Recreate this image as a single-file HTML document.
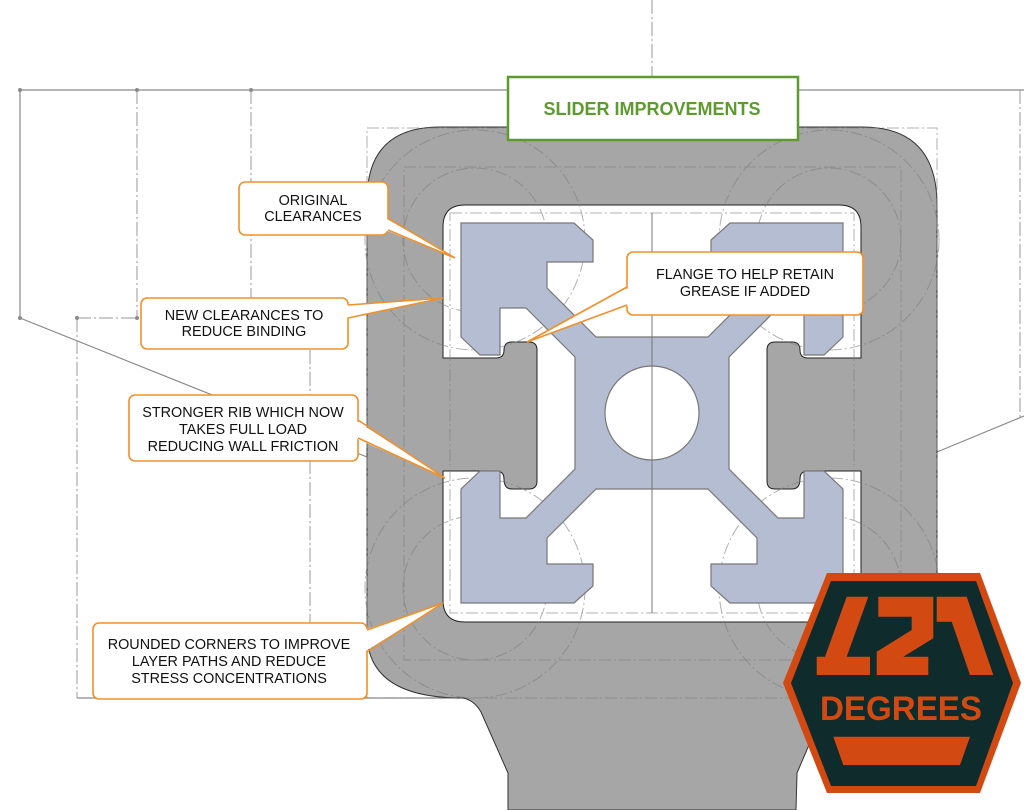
<!DOCTYPE html>
<html><head><meta charset="utf-8"><style>
html,body{margin:0;padding:0;background:#fff;}
svg{display:block;}
text{font-family:"Liberation Sans",sans-serif;}
</style></head><body>
<svg width="1024" height="810" viewBox="0 0 1024 810" xmlns="http://www.w3.org/2000/svg">
<g stroke="#8a8a8a" stroke-width="1.2" fill="none">
  <polyline points="20,90 20,318 367,457"/>
  <line x1="20" y1="90" x2="1024" y2="90"/>
  <line x1="937" y1="452" x2="1024" y2="416"/>
  <line x1="77" y1="698" x2="470" y2="698"/>
</g>
<g stroke="#9a9a9a" stroke-width="1" fill="none" stroke-dasharray="14,3,2,3">
  <line x1="137" y1="90" x2="137" y2="318"/>
  <line x1="251" y1="90" x2="251" y2="300"/>
  <line x1="77" y1="318" x2="137" y2="318"/>
  <line x1="77" y1="318" x2="77" y2="698"/>
  <line x1="310" y1="350" x2="310" y2="698"/>
  <line x1="652" y1="0" x2="652" y2="810"/>
  <line x1="1020" y1="90" x2="1020" y2="420"/>
</g>
<g fill="#8a8a8a">
  <circle cx="20" cy="90" r="2"/><circle cx="137" cy="90" r="2"/><circle cx="251" cy="90" r="2"/>
  <circle cx="20" cy="318" r="2"/><circle cx="77" cy="318" r="2"/><circle cx="137" cy="318" r="2"/>
</g>
<path d="M367,200 Q367,127 440,127 L862,127 Q937,127 937,205 L937,633 Q937,698 841,698 Q830,700 823,712 L797,773 L796,810 L508,810 L508,773 L481,712 Q474,700 463,698 Q367,698 367,633 Z" fill="#a6a6a6" stroke="#333" stroke-width="1"/>
<path d="M465,205 L839,205 Q861,205 861,227 L861,358 L808,358 Q800,358 800,350 L800,350 Q800,342 792,342 L775,342 Q767,342 767,350 L767,481 Q767,489 775,489 L792,489 Q800,489 800,479 Q800,471 808,471 L861,471 L861,600 Q861,622 839,622 L465,622 Q443,622 443,600 L443,471 L496,471 Q504,471 504,479 Q504,489 512,489 L529,489 Q537,489 537,481 L537,350 Q537,342 529,342 L512,342 Q504,342 504,350 Q504,358 496,358 L443,358 L443,227 Q443,205 465,205 Z" fill="#fff" stroke="#222" stroke-width="1"/>
<g stroke="#7d7d7d" stroke-width="1" fill="none" stroke-dasharray="12,3,2,3" opacity="0.6">
  <rect x="367" y="128" width="570" height="570"/>
  <rect x="404" y="167" width="497" height="493"/>
  <rect x="450" y="213" width="404" height="400"/>
  <circle cx="475" cy="240" r="72"/><circle cx="475" cy="240" r="110"/>
  <circle cx="829" cy="240" r="72"/><circle cx="829" cy="240" r="110"/>
  <circle cx="475" cy="588" r="72"/><circle cx="475" cy="588" r="110"/>
  <circle cx="829" cy="588" r="72"/><circle cx="829" cy="588" r="110"/>
</g>
<g transform="translate(652,413)">
<polygon fill="#b4bdd1" stroke="#777" stroke-width="1.2" points="-77,-56 -126,-105 -152,-105 -152,-58 -172,-58 -191,-76 -191,-190 -78,-190 -59,-173 -59,-151 -105,-151 -105,-125 -56,-76 56,-76 105,-125 105,-151 59,-151 59,-173 78,-190 191,-190 191,-76 172,-58 152,-58 152,-105 126,-105 77,-56 77,56 126,105 152,105 152,58 172,58 191,76 191,190 78,190 59,173 59,151 105,151 105,125 56,76 -56,76 -105,125 -105,151 -59,151 -59,173 -78,190 -191,190 -191,76 -172,58 -152,58 -152,105 -126,105 -77,56"/>
<circle cx="0" cy="0" r="47" fill="#fff" stroke="#777" stroke-width="1.2"/>
<line x1="0" y1="-200" x2="0" y2="200" stroke="#777" stroke-width="1"/>
</g>
<rect x="508" y="77" width="290" height="63" fill="#fff" stroke="#5d9b2e" stroke-width="2.5"/>
<text x="652" y="115" text-anchor="middle" font-size="18" font-weight="bold" fill="#5d9b2e">SLIDER IMPROVEMENTS</text>
<g stroke="#f0902a" stroke-width="1.6" fill="#fff">
  <rect x="239" y="182" width="149" height="53" rx="6"/>
  <polygon points="385,218 455,258 385,230" stroke="none"/>
  <polyline points="388,218 455,258 388,230" fill="none"/>

  <rect x="141" y="298" width="207" height="51" rx="6"/>
  <polygon points="345,305 443,298 345,318" stroke="none"/>
  <polyline points="348,305 443,298 348,318" fill="none"/>

  <rect x="129" y="395" width="229" height="66" rx="6"/>
  <polygon points="355,420 445,478 355,438" stroke="none"/>
  <polyline points="358,420 445,478 358,438" fill="none"/>

  <rect x="93" y="623" width="274" height="76" rx="6"/>
  <polygon points="364,630 443,603 364,652" stroke="none"/>
  <polyline points="367,630 443,603 367,652" fill="none"/>

  <rect x="627" y="252" width="236" height="63" rx="6"/>
  <polygon points="630,287 527,342 630,305" stroke="none"/>
  <polyline points="627,287 527,342 627,305" fill="none"/>
</g>
<g font-size="14.4" fill="#111" text-anchor="middle">
  <text x="313" y="205">ORIGINAL</text><text x="313" y="221">CLEARANCES</text>
  <text x="244" y="320">NEW CLEARANCES TO</text><text x="244" y="336">REDUCE BINDING</text>
  <text x="243" y="417">STRONGER RIB WHICH NOW</text><text x="243" y="434">TAKES FULL LOAD</text><text x="243" y="451">REDUCING WALL FRICTION</text>
  <text x="229" y="649">ROUNDED CORNERS TO IMPROVE</text><text x="229" y="666">LAYER PATHS AND REDUCE</text><text x="229" y="683">STRESS CONCENTRATIONS</text>
  <text x="745" y="279">FLANGE TO HELP RETAIN</text><text x="745" y="296">GREASE IF ADDED</text>
</g>
<polygon points="827,573 980,573 1021,683 980,793 827,793 783,683" fill="#d24a12"/>
<polygon points="831,581 976,581 1013,683 976,786 831,786 791,683" fill="#0f2b2b"/>
<g fill="#d24a12">
  <polygon points="846.7,596.7 868.3,596.7 846.7,656.7 870,656.7 870,675 816.7,675 816.7,656.7 825,656.7"/>
  <polygon points="878.3,596.7 933.3,596.7 933.3,638.3 903.3,656.7 928.3,656.7 928.3,675 876.7,675 876.7,651.7 911.7,630 911.7,616.7 878.3,616.7"/>
  <polygon points="936.7,596.7 966.7,596.7 993.3,675 970,675 951.7,621.7 936.7,621.7"/>
  <polygon points="833.3,736.7 970,736.7 960,765 843.3,765"/>
  <text x="901" y="720" text-anchor="middle" font-size="34" font-weight="bold" textLength="162" lengthAdjust="spacingAndGlyphs">DEGREES</text>
</g>
</svg>
</body></html>
